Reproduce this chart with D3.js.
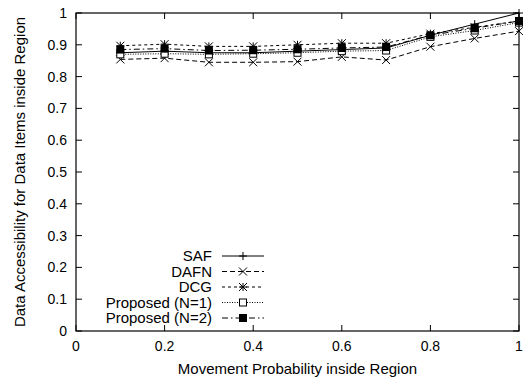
<!DOCTYPE html>
<html>
<head>
<meta charset="utf-8">
<script src="https://cdn.jsdelivr.net/npm/d3@7"></script>
<style>
  body { margin: 0; background: #fff; }
  text { font-family: "Liberation Sans", Arial, sans-serif; fill: #000; }
</style>
</head>
<body>
<svg id="chart" width="523" height="377"></svg>
<script>
const xValues = [0.1, 0.2, 0.3, 0.4, 0.5, 0.6, 0.7, 0.8, 0.9, 1.0];
const saf = [0.875, 0.880, 0.875, 0.875, 0.880, 0.885, 0.890, 0.930, 0.965, 1.000];
const dafn = [0.854, 0.858, 0.845, 0.845, 0.847, 0.862, 0.852, 0.894, 0.920, 0.943];
const dcg = [0.897, 0.902, 0.895, 0.895, 0.900, 0.905, 0.905, 0.935, 0.955, 0.975];
const proposedN1 = [0.870, 0.872, 0.870, 0.872, 0.875, 0.880, 0.882, 0.925, 0.945, 0.970];
const proposedN2 = [0.885, 0.888, 0.882, 0.883, 0.886, 0.890, 0.893, 0.930, 0.952, 0.975];
const xTicks = [0, 0.2, 0.4, 0.6, 0.8, 1];
const yTicks = [0, 0.1, 0.2, 0.3, 0.4, 0.5, 0.6, 0.7, 0.8, 0.9, 1];

const series = [
  { name: "SAF", values: saf, dash: null, marker: "plus" },
  { name: "DAFN", values: dafn, dash: "5,3", marker: "cross" },
  { name: "DCG", values: dcg, dash: "3,3", marker: "star" },
  { name: "Proposed (N=1)", values: proposedN1, dash: "1,1.5", marker: "box" },
  { name: "Proposed (N=2)", values: proposedN2, dash: "6,3,1.5,3", marker: "fbox" }
];

const svg = d3.select("#chart");
const mLeft = 76, mRight = 519, mTop = 13, mBottom = 331;

const x = d3.scaleLinear().domain([0, 1]).range([mLeft, mRight]);
const y = d3.scaleLinear().domain([0, 1]).range([mBottom, mTop]);

// ticks on all four sides, pointing inward (gnuplot mirror)
const tickLen = 6;
const g = svg.append("g").attr("stroke", "#000").attr("stroke-width", 1);
yTicks.forEach((t) => {
  g.append("line").attr("x1", mLeft).attr("x2", mLeft + tickLen).attr("y1", y(t)).attr("y2", y(t));
  g.append("line").attr("x1", mRight).attr("x2", mRight - tickLen).attr("y1", y(t)).attr("y2", y(t));
});
xTicks.forEach((t) => {
  g.append("line").attr("x1", x(t)).attr("x2", x(t)).attr("y1", mBottom).attr("y2", mBottom - tickLen);
  g.append("line").attr("x1", x(t)).attr("x2", x(t)).attr("y1", mTop).attr("y2", mTop + tickLen);
});

svg.selectAll(".ylab").data(yTicks).enter().append("text")
  .attr("x", mLeft - 9).attr("y", (d) => y(d)).attr("dy", "0.35em")
  .attr("text-anchor", "end").style("font-size", "14px")
  .text((d) => d3.format("")(d));

svg.selectAll(".xlab").data(xTicks).enter().append("text")
  .attr("x", (d) => x(d)).attr("y", mBottom + 20)
  .attr("text-anchor", "middle").style("font-size", "14px")
  .text((d) => d3.format("")(d));

svg.append("text").attr("x", (mLeft + mRight) / 2).attr("y", 374)
  .attr("text-anchor", "middle").style("font-size", "15px")
  .text("Movement Probability inside Region");

svg.append("text").attr("transform", `translate(25,${(mTop + mBottom) / 2}) rotate(-90)`)
  .attr("text-anchor", "middle").style("font-size", "15px")
  .text("Data Accessibility for Data Items inside Region");

function drawMarker(sel, type, cx, cy) {
  const s = 4;
  if (type === "plus") {
    sel.append("path").attr("d", `M${cx - s},${cy}H${cx + s}M${cx},${cy - s}V${cy + s}`)
      .attr("stroke", "#000").attr("fill", "none");
  } else if (type === "cross") {
    sel.append("path").attr("d", `M${cx - s},${cy - s}L${cx + s},${cy + s}M${cx - s},${cy + s}L${cx + s},${cy - s}`)
      .attr("stroke", "#000").attr("fill", "none");
  } else if (type === "star") {
    sel.append("path").attr("d", `M${cx - s},${cy - s}L${cx + s},${cy + s}M${cx - s},${cy + s}L${cx + s},${cy - s}M${cx - s},${cy}H${cx + s}M${cx},${cy - s}V${cy + s}`)
      .attr("stroke", "#000").attr("fill", "none");
  } else if (type === "box") {
    sel.append("rect").attr("x", cx - 3.5).attr("y", cy - 3.5).attr("width", 7).attr("height", 7)
      .attr("stroke", "#000").attr("fill", "#fff");
  } else if (type === "fbox") {
    sel.append("rect").attr("x", cx - 4).attr("y", cy - 4).attr("width", 8).attr("height", 8)
      .attr("fill", "#000");
  }
}

const line = d3.line().x((d) => x(d[0])).y((d) => y(d[1]));

series.forEach((s) => {
  const pts = xValues.map((v, i) => [v, s.values[i]]);
  svg.append("path").datum(pts).attr("d", line)
    .attr("fill", "none").attr("stroke", "#000").attr("stroke-width", 1)
    .attr("stroke-dasharray", s.dash);
  const mg = svg.append("g");
  pts.forEach((p) => drawMarker(mg, s.marker, x(p[0]), y(p[1])));
});

// legend
const legY0 = 256, legStep = 15.5, legTextX = 212, legX1 = 222, legX2 = 264;
series.forEach((s, i) => {
  const ly = legY0 + i * legStep;
  svg.append("text").attr("x", legTextX).attr("y", ly).attr("dy", "0.35em")
    .attr("text-anchor", "end").style("font-size", "15px").text(s.name);
  svg.append("line").attr("x1", legX1).attr("x2", legX2).attr("y1", ly).attr("y2", ly)
    .attr("stroke", "#000").attr("stroke-dasharray", s.dash);
  drawMarker(svg, s.marker, (legX1 + legX2) / 2, ly);
});

// frame
svg.append("rect").attr("x", mLeft).attr("y", mTop).attr("width", mRight - mLeft).attr("height", mBottom - mTop)
  .attr("fill", "none").attr("stroke", "#000").attr("stroke-width", 1.2);
</script>
</body>
</html>
